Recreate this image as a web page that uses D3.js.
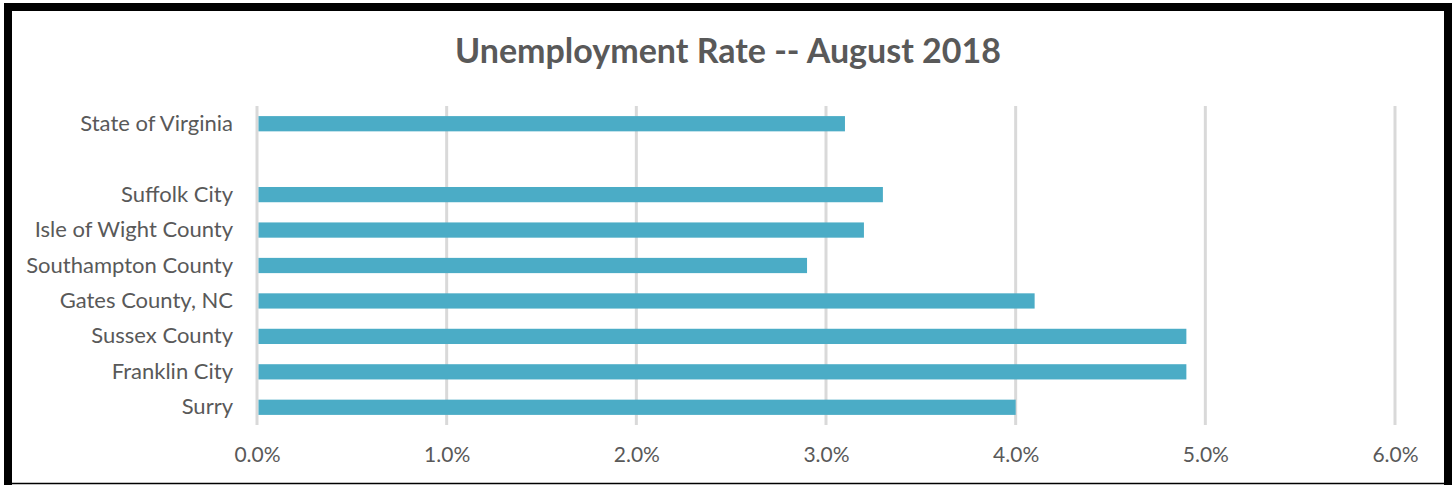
<!DOCTYPE html>
<html>
<head>
<meta charset="utf-8">
<script src="https://cdn.jsdelivr.net/npm/d3@7"></script>
<style>
  html, body { margin: 0; padding: 0; background: #fff; }
  svg { display: block; }
  text { font-family: Lato, "Open Sans", sans-serif; fill: #595959; }
</style>
</head>
<body>
<div id="chart"></div>
<script>
// categories top to bottom, "" is the empty gap row
const categories = ["State of Virginia", "", "Suffolk City", "Isle of Wight County",
    "Southampton County", "Gates County, NC", "Sussex County", "Franklin City", "Surry"];
const rates = [3.1, null, 3.3, 3.2, 2.9, 4.1, 4.9, 4.9, 4.0];
const xTicks = [0, 1, 2, 3, 4, 5, 6];
const title = "Unemployment Rate -- August 2018";

const W = 1455, H = 485;
const margin = { top: 106, right: 60, bottom: 60, left: 257 };
const width = 1395 - margin.left;
const height = 425 - margin.top;

const svg = d3.select("#chart").append("svg")
    .attr("width", W)
    .attr("height", H);

// frame
svg.append("rect")
    .attr("x", 8).attr("y", 7)
    .attr("width", 1440).attr("height", 490)
    .attr("fill", "none")
    .attr("stroke", "#000")
    .attr("stroke-width", 8);
svg.append("line")
    .attr("x1", 4).attr("x2", 1452)
    .attr("y1", 483.5).attr("y2", 483.5)
    .attr("stroke", "#000")
    .attr("stroke-width", 1.5);

// title
svg.append("text")
    .attr("x", 728)
    .attr("y", 63)
    .attr("text-anchor", "middle")
    .style("font-size", "34px")
    .style("font-weight", "bold")
    .text(title);

const g = svg.append("g")
    .attr("transform", `translate(${margin.left},${margin.top})`);

const x = d3.scaleLinear()
    .domain([0, 6])
    .range([0, width]);

const y = d3.scaleBand()
    .domain(categories.map((d, i) => i))
    .range([0, height])
    .paddingInner(0.57)
    .paddingOuter(0.285);

// gridlines
g.selectAll(".grid")
    .data(xTicks)
    .enter()
    .append("line")
    .attr("class", "grid")
    .attr("x1", d => x(d))
    .attr("x2", d => x(d))
    .attr("y1", 0)
    .attr("y2", height)
    .attr("stroke", "#d9d9d9")
    .attr("stroke-width", 3);

// bars
g.selectAll(".bar")
    .data(rates.map((v, i) => ({ v, i })).filter(d => d.v !== null))
    .enter()
    .append("rect")
    .attr("class", "bar")
    .attr("x", x(0) + 1.5)
    .attr("y", d => y(d.i))
    .attr("width", d => x(d.v) - x(0) - 1.5)
    .attr("height", y.bandwidth())
    .attr("fill", "#4bacc6");

// category labels
const yAxis = d3.axisLeft(y)
    .tickSize(0)
    .tickPadding(24)
    .tickFormat(i => categories[i]);

g.append("g")
    .call(yAxis)
    .call(a => a.select(".domain").remove())
    .selectAll("text")
    .style("font-size", "22px")
    .attr("fill", "#595959");

// x axis
const xAxis = d3.axisBottom(x)
    .tickValues(xTicks)
    .tickSize(0)
    .tickPadding(22)
    .tickFormat(d => d.toFixed(1) + "%");

g.append("g")
    .attr("transform", `translate(0,${height})`)
    .call(xAxis)
    .call(a => a.select(".domain").remove())
    .selectAll("text")
    .style("font-size", "21px")
    .attr("fill", "#595959");
</script>
</body>
</html>
